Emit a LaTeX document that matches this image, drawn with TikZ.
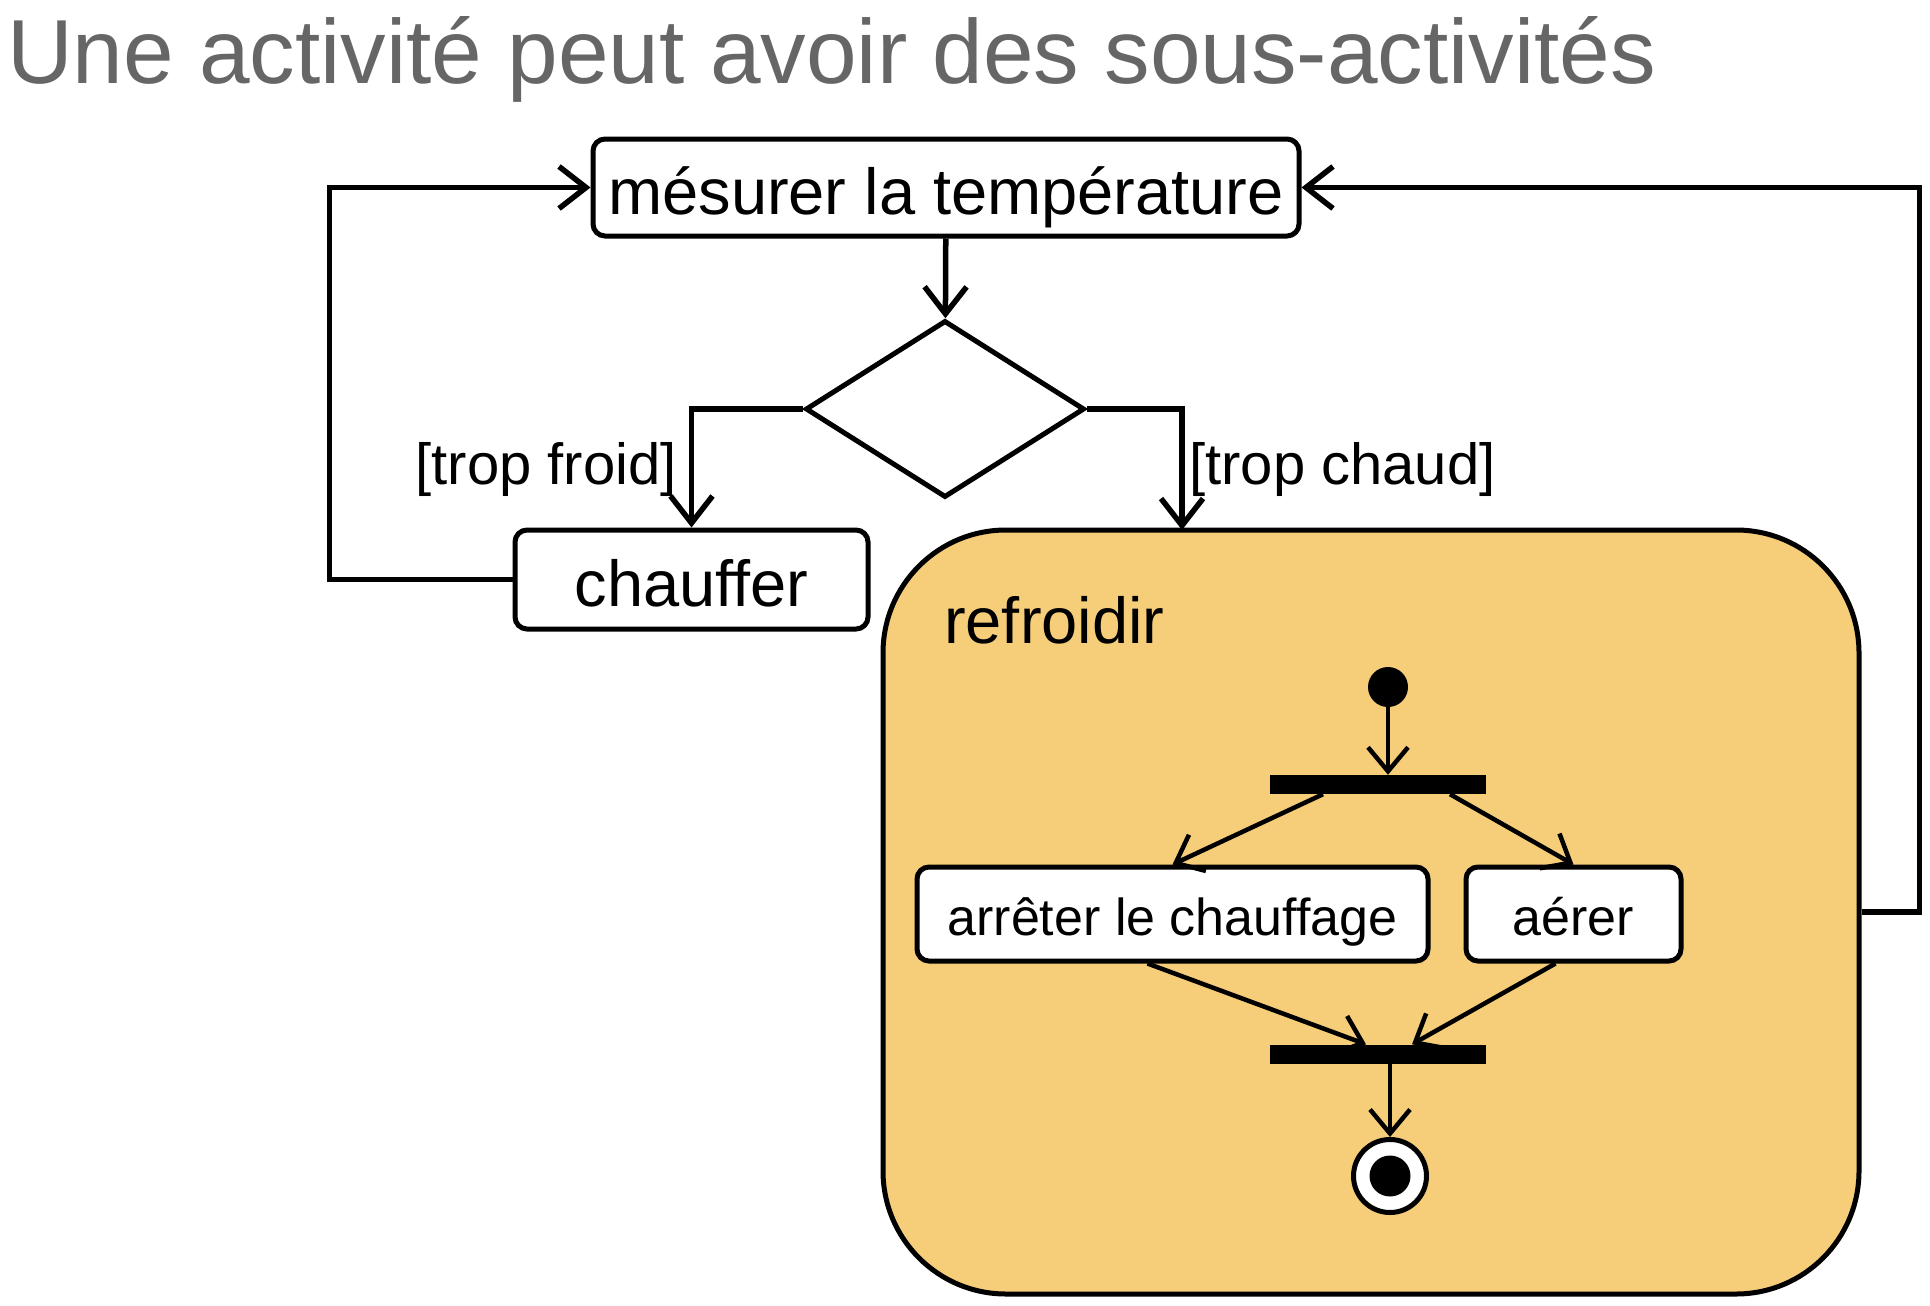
\documentclass[tikz,border=0pt]{standalone}
\usepackage{fontspec}
\setmainfont{Liberation Sans}
\usepackage{xcolor}
\usetikzlibrary{arrows.meta,shapes.geometric}
\definecolor{titlegray}{RGB}{102,102,102}
\definecolor{coolfill}{RGB}{246,205,121}

\begin{document}
\begin{tikzpicture}[x=1pt,y=-1pt,
  act/.style={draw,line width=5pt,rounded corners=12pt,fill=white,inner sep=0pt},
  bar/.style={fill=black,minimum width=216pt,minimum height=19pt,inner sep=0pt},
  big/.style={font=\fontsize{65}{72}\selectfont,text height=53pt,text depth=0pt},
  small/.style={font=\fontsize{52}{60}\selectfont,text height=43pt,text depth=0pt},
  guard/.style={inner sep=0pt,font=\fontsize{58}{64}\selectfont},
  flow/.style={->,line width=5.5pt},
  subflow/.style={-{Straight Barb[length=24pt,width=40pt]},line width=4.5pt},
  >={Straight Barb[length=27pt,width=42pt]}]
\useasboundingbox (0,0) rectangle (1930,1306);
\node[anchor=base west,inner sep=0pt,text=titlegray,font=\fontsize{91}{100}\selectfont] (title) at (7,84) {Une activité peut avoir des sous-activités};
\node[act,big,minimum width=706pt,minimum height=97pt] (mes) at (946,187.5) {mésurer la température};
\node[draw,diamond,line width=5pt,minimum width=279pt,minimum height=177pt,inner sep=0pt] (dec) at (945,409) {};
\node[act,big,minimum width=353pt,minimum height=99pt] (chauffer) at (691.5,579.5) {chauffer};
\node[act,fill=coolfill,rounded corners=123pt,minimum width=976pt,minimum height=764pt] (ref) at (1371,912) {};
\node[anchor=base west,inner sep=0pt,font=\fontsize{65}{72}\selectfont] (reflabel) at (944,643) {refroidir};
\node[guard,anchor=base east] (cold) at (677,484) {[trop froid]};
\node[guard,anchor=base west] (warm) at (1189,484) {[trop chaud]};
\coordinate (hot) at (1182,530);

\node[circle,fill=black,minimum size=40pt,inner sep=0pt] (init) at (1388,687) {};
\node[bar] (fork) at (1378,784.5) {};
\node[act,small,minimum width=511pt,minimum height=94pt] (arr) at (1172.5,914) {arrêter le chauffage};
\node[act,small,minimum width=215pt,minimum height=94pt] (aer) at (1573.5,914) {aérer};
\node[bar] (join) at (1378,1054) {};
\node[circle,draw,line width=5pt,fill=white,minimum size=73pt,inner sep=0pt] (final) at (1390,1176) {};
\node[circle,fill=black,minimum size=41pt,inner sep=0pt] (finaldot) at (final) {};

\draw[flow] (mes) -- (dec);
\draw[flow] (dec.west) -| (chauffer.north);
\draw[flow] (dec.east) -| (hot);
\draw[flow] (chauffer.west) -- ++(-183,0) |- (mes.west);
\draw[flow] (ref.east) -- ++(58,0) |- (mes.east);

\draw[subflow] (init) -- (init |- fork.north);
\draw[subflow] ([xshift=-55pt]fork.south) -- (arr.north);
\draw[subflow] ([xshift=72pt]fork.south) -- (aer.north);
\draw[subflow] ([xshift=-25pt]arr.south) -- ([xshift=-12pt]join.north);
\draw[subflow] ([xshift=-18pt]aer.south) -- ([xshift=34pt]join.north);
\draw[subflow] (join.south -| final) -- (final.north);
\end{tikzpicture}
\end{document}
